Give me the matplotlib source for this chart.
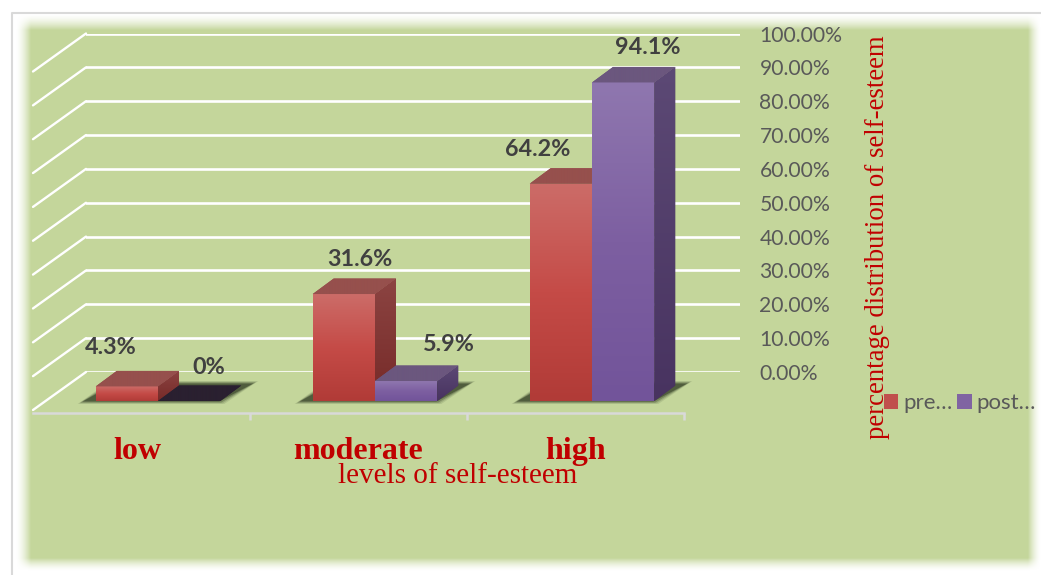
import numpy as np
import matplotlib
matplotlib.use("Agg")
import matplotlib.pyplot as plt
from matplotlib.colors import LinearSegmentedColormap
from matplotlib.lines import Line2D
from matplotlib.patches import Polygon, Patch
from matplotlib.transforms import ScaledTranslation

categories = ["low", "moderate", "high"]
pre_values = [4.3, 31.6, 64.2]
post_values = [0, 5.9, 94.1]
pre_labels = ["4.3%", "31.6%", "64.2%"]
post_labels = ["0%", "5.9%", "94.1%"]
y_ticks = [0, 10, 20, 30, 40, 50, 60, 70, 80, 90, 100]
y_tick_labels = [f"{v:.2f}%" for v in y_ticks]
series_names = ["pre…", "post…"]

W, H = 1041, 575
fig = plt.figure(figsize=(W / 100, H / 100), dpi=100, facecolor="white")

# soft-edged green panel
bg = fig.add_axes([0, 0, 1, 1], zorder=0)
bg.axis("off")
xx = np.arange(W) + .5
yy = np.arange(H) + .5
ramp = lambda d, w: np.clip(d / w, 0, 1) ** 1.6
ax_alpha = ramp(xx - 16, 15) * ramp(1041 - xx, 13)
ay_alpha = ramp(yy - 14, 16) * ramp(571 - yy, 13)
rgba = np.ones((H, W, 4))
rgba[..., :3] = np.array([196, 214, 155]) / 255
rgba[..., 3] = np.outer(ay_alpha, ax_alpha)
bg.imshow(rgba, extent=(0, W, H, 0), aspect="auto", interpolation="nearest")
fig.add_artist(Line2D([11.5 / W, 11.5 / W, 1], [0, 1 - 13 / H, 1 - 13 / H],
                      color="#D9D9D9", lw=1.5, transform=fig.transFigure))

# axes = back wall of the 3-D box
L, R, T, B = 86, 740, 33.5, 372
ax = fig.add_axes([L / W, 1 - B / H, (R - L) / W, (B - T) / H], zorder=2)
ax.patch.set_visible(False)
X0, XS = 141.5, 217.0
YS = (B - T) / 100.0
xlim = ((L - X0) / XS, (R - X0) / XS)

bar_w = 62.3 / XS
shift = 16.5 / XS
depth_x = 21 / XS
depth_y = 15.5 / YS
floor = -29 / YS
wall_x = 53 / XS
wall_y = 38 / YS
wall_left = xlim[0]

# gridlines (back wall and left wall)
ax.set_yticks(y_ticks, y_tick_labels)
ax.yaxis.tick_right()
ax.tick_params(axis="y", length=0, pad=14, labelsize=15.2, labelcolor="#595959",
               labelfontfamily="Lato")
ax.grid(axis="y", color="white", lw=1.9, zorder=1)
ax.set_axisbelow(True)
for t in y_ticks:
    ax.plot([wall_left, wall_left - wall_x], [t, t - wall_y], color="white", lw=1.7,
            clip_on=False, zorder=1, solid_capstyle="round")

for s in ["top", "left", "right"]:
    ax.spines[s].set_visible(False)
ax.spines["bottom"].set_position(("outward", 41 * .72))
ax.spines["bottom"].set_color("#D9D9D9")
ax.spines["bottom"].set_linewidth(1.8)
ax.spines["bottom"].set_bounds(-.5, 2.5)
ax.set_xticks(np.arange(-.5, 3, 1), [""] * 4)
ax.tick_params(axis="x", which="major", length=5, width=1.8, color="#D9D9D9")
ax.set_xticks(range(3), categories, minor=True)
ax.tick_params(axis="x", which="minor", length=0, pad=17, labelsize=23, labelcolor="#C00000",
               labelfontfamily="Liberation Serif")
for lab in ax.get_xticklabels(minor=True):
    lab.set_fontweight("bold")
low_label = ax.xaxis.get_minor_ticks()[0].label1
low_label.set_transform(low_label.get_transform() + ScaledTranslation(-4.5 / 100, 0, fig.dpi_scale_trans))
ax.set_xlim(*xlim)
ax.set_ylim(0, 100)

ax.set_xlabel("levels of self-esteem", family="Liberation Serif", fontsize=21, color="#C00000")
ax.xaxis.set_label_coords((457.5 - L) / (R - L), (B - 476) / (B - T))
ax.xaxis.label.set_va("center")
ax.yaxis.set_label_position("right")
ax.set_ylabel("percentage distribution of self-esteem", family="Liberation Serif", fontsize=19.3,
              color="#C00000", rotation=90, va="center", ha="center")
ax.yaxis.set_label_coords((878 - L) / (R - L), (B - 237) / (B - T))

z = [3.0]
def nz():
    z[0] += .01
    return z[0]

def gradient_poly(verts, cols):
    """Fill a polygon given in data coordinates with a vertical gradient."""
    verts = np.asarray(verts)
    poly = Polygon(verts, closed=True, fc=cols[-1], ec="none", clip_on=False, zorder=nz())
    ax.add_patch(poly)
    cmap = LinearSegmentedColormap.from_list("g", cols)
    im = ax.imshow(np.linspace(0, 1, 128)[:, None], cmap=cmap, aspect="auto", origin="upper",
                   extent=(verts[:, 0].min(), verts[:, 0].max(), verts[:, 1].min(), verts[:, 1].max()),
                   interpolation="bilinear", zorder=nz())
    im.set_clip_box(fig.bbox)
    im.set_clip_path(poly)

RED = dict(front=["#CC6C68", "#C54B47", "#B13B37"], side=["#8C4442", "#762A28"], top=["#96504D", "#96504D"])
PUR = dict(front=["#8F77AF", "#7D5FA1", "#72549A"], side=["#5C4975", "#483360"], top=["#6B577E", "#6B577E"])

def draw_bar(x0, v, st):
    x1 = x0 + bar_w
    y1 = floor + v
    ax.bar(x0, v, width=bar_w, bottom=floor, align="edge", color=st["front"][1], clip_on=False,
           zorder=nz())
    if v > 0:
        gradient_poly([(x1, floor), (x1 + depth_x, floor + depth_y), (x1 + depth_x, y1 + depth_y), (x1, y1)],
                      st["side"])
        gradient_poly([(x0, floor), (x1, floor), (x1, y1), (x0, y1)], st["front"])
        top_cols = st["top"]
    else:
        top_cols = ["#2A2030", "#2A2030"]
    gradient_poly([(x0, y1), (x1, y1), (x1 + depth_x, y1 + depth_y), (x0 + depth_x, y1 + depth_y)], top_cols)

# floor shadows
for i in range(3):
    a = i + shift - bar_w
    b = i + shift + bar_w
    for grow, alpha in [(4, .12), (2.5, .18), (1, .3), (-1, .55)]:
        gx = grow / XS
        gy = grow / YS * .5
        ax.add_patch(Polygon(
            [(a - 14 / XS - gx, floor - 1 / YS - gy), (b + gx, floor - 1 / YS - gy),
             (b + 34 / XS + gx, floor + 18 / YS + gy), (a + 18 / XS - gx, floor + 18 / YS + gy)],
            closed=True, fc="#2F3A22", ec="none", alpha=alpha, clip_on=False, zorder=2.5))

label_offsets_pre = [(-16, 39), (16, 35), (-23.5, 34)]
label_offsets_post = [(20, 34), (43, 37), (24.5, 35)]

for i in range(3):
    xc = i + shift
    draw_bar(xc - bar_w, pre_values[i], RED)
    draw_bar(xc, post_values[i], PUR)
    for x0, v, txt, off in [(xc - bar_w, pre_values[i], pre_labels[i], label_offsets_pre[i]),
                            (xc, post_values[i], post_labels[i], label_offsets_post[i])]:
        ax.annotate(txt, (x0 + bar_w / 2, floor + v), xytext=off, textcoords="offset pixels",
                    ha="center", va="center", family="Lato", fontweight="bold", fontsize=16.8,
                    color="#404040", annotation_clip=False, zorder=10)

handles = [Patch(fc="#C0504D", ec="none"), Patch(fc="#8064A2", ec="none")]
fig.legend(handles, series_names, ncol=2, frameon=False, prop=dict(family="Lato", size=16),
           labelcolor="#595959", handlelength=.65, handleheight=.65, handletextpad=.22, columnspacing=.22,
           loc="center left", bbox_to_anchor=(884 / W, 1 - 403 / H), borderpad=0, borderaxespad=0)

fig.savefig("out.png", dpi=100)
